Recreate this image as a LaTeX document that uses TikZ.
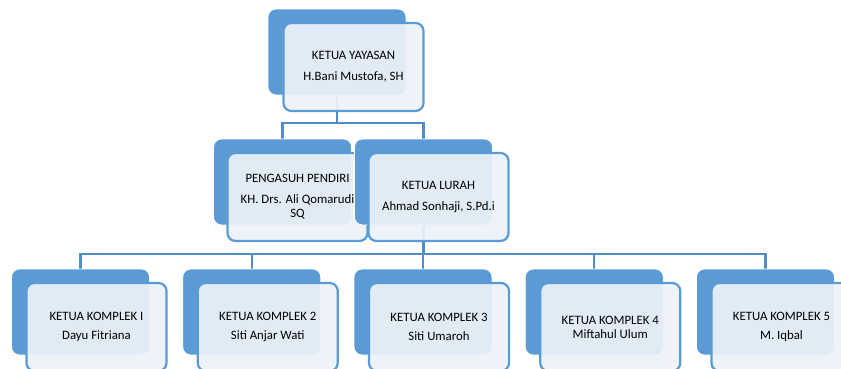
\documentclass[tikz,border=0pt]{standalone}
\usepackage{fontspec}
\setmainfont{Carlito}
\definecolor{backblue}{HTML}{5B9BD5}
\definecolor{frontfill}{HTML}{EDF2F9}
\definecolor{linkblue}{HTML}{4F8CC9}
\begin{document}
\begin{tikzpicture}[x=1pt,y=-1pt,
  backbox/.style={rectangle, rounded corners=8pt, fill=backblue, draw=white, line width=0.8pt, minimum width=138pt, minimum height=86pt, inner sep=0pt},
  frontbox/.style={rectangle, rounded corners=8pt, fill=frontfill, fill opacity=0.92, text opacity=1, draw=backblue, line width=2.2pt, minimum width=140pt, minimum height=88pt, inner sep=2pt, align=center, font=\fontsize{12.8}{14}\selectfont},
  conn/.style={draw=linkblue, line width=2.4pt}]
\useasboundingbox (0,0) rectangle (841,368);
% junctions
\coordinate (j1) at (337,123);
\coordinate (j2) at (423.5,254);
% invisible anchors for connectors (drawn behind)
\node[backbox, draw=none, fill=none] (yb0) at (337,52) {};
\node[backbox, draw=none, fill=none] (pb0) at (282.5,182) {};
\node[backbox, draw=none, fill=none] (lb0) at (423.5,182) {};
\foreach \i/\x in {1/80.5,2/251.75,3/423,4/594.25,5/765.5}{
  \node[backbox, draw=none, fill=none] (k\i b0) at (\x,312) {};
}
\draw[conn] (yb0.south) -- (j1);
\draw[conn] (pb0.north) |- (j1) -| (lb0.north);
\draw[conn] (lb0.south) -- (j2);
\draw[conn] (k1b0.north) |- (j2) -| (k5b0.north);
\draw[conn] (k2b0.north) |- (j2);
\draw[conn] (k3b0.north) -- (k3b0.north |- j2);
\draw[conn] (k4b0.north) |- (j2);
% top
\node[backbox] (yb) at (337,52) {};
\node[frontbox] (y) at (353.5,67) {KETUA YAYASAN\\[7pt]H.Bani Mustofa, SH};
% row 2
\node[backbox] (pb) at (282.5,182) {};
\node[frontbox] (p) at (297.5,197) {PENGASUH PENDIRI\\[7pt]KH. Drs. Ali Qomarudi\\SQ};
\node[backbox] (lb) at (423.5,182) {};
\node[frontbox] (l) at (438.5,197) {KETUA LURAH\\[7pt]Ahmad Sonhaji, S.Pd.i};
% row 3
\node[backbox] (k1b) at (80.5,312) {};
\node[frontbox] (k1) at (96.5,327) {KETUA KOMPLEK I\\[5pt]Dayu Fitriana};
\node[backbox] (k2b) at (251.75,312) {};
\node[frontbox] (k2) at (267.75,327) {KETUA KOMPLEK 2\\[5pt]Siti Anjar Wati};
\node[backbox] (k3b) at (423,312) {};
\node[frontbox] (k3) at (439,327) {KETUA KOMPLEK 3\\[5pt]Siti Umaroh};
\node[backbox] (k4b) at (594.25,312) {};
\node[frontbox] (k4) at (610.25,327) {KETUA KOMPLEK 4\\Miftahul Ulum};
\node[backbox] (k5b) at (765.5,312) {};
\node[frontbox] (k5) at (781.5,327) {KETUA KOMPLEK 5\\[5pt]M. Iqbal};
\end{tikzpicture}
\end{document}
